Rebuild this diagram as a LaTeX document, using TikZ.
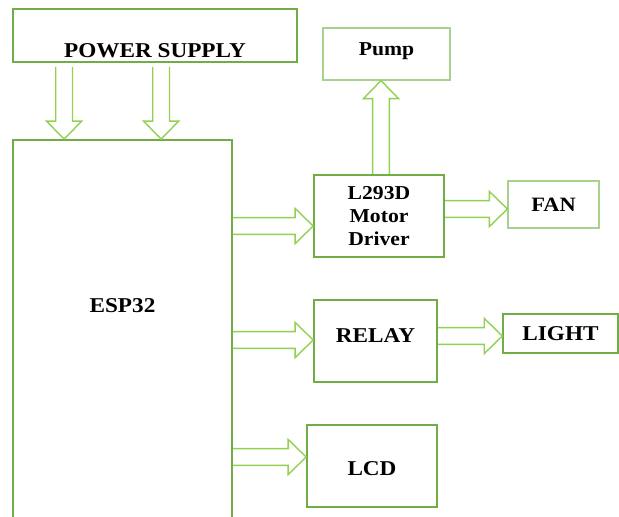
\documentclass[tikz,border=0pt]{standalone}
\usepackage{fontspec}
\setmainfont{Liberation Serif}[FakeStretch=1.1]
\definecolor{boxgreen}{HTML}{70AD47}
\definecolor{arrowgreen}{HTML}{92D050}
\definecolor{palegreen}{HTML}{A9D18E}
\usetikzlibrary{calc}
\tikzset{
    blockbox/.style={
        draw=boxgreen,
        fill=white,
        line width=1.2pt,
        inner sep=0pt,
        align=center,
        font=\bfseries\fontsize{15}{18}\selectfont
    },
    paleblock/.style={
        blockbox,
        draw=palegreen,
        line width=0.9pt
    },
    blockarrow/.style={
        draw=arrowgreen,
        line width=1pt,
        line join=miter,
        to path={
            let \p1=(\tikztostart), \p2=(\tikztotarget) in
            ($(\p1)!0.21cm!90:(\p2)$)
            -- ($(\p2)!0.45cm!(\p1)!0.21cm!90:(\p2)$)
            -- ($(\p2)!0.45cm!(\p1)!0.44cm!90:(\p2)$)
            -- (\p2)
            -- ($(\p2)!0.45cm!(\p1)!0.44cm!-90:(\p2)$)
            -- ($(\p2)!0.45cm!(\p1)!0.21cm!-90:(\p2)$)
            -- ($(\p1)!0.21cm!-90:(\p2)$)
        }
    }
}

\begin{document}
\begin{tikzpicture}[x=0.025cm,y=-0.025cm]
    \useasboundingbox (0,0) rectangle (619,516);
    \clip (0,0) rectangle (619,516);

    \node[blockbox,minimum width=7.1cm,text height=1.2cm,text depth=0.125cm]
        (psu) at (155,35.5) {POWER SUPPLY};
    \node[blockbox,minimum width=5.475cm,text height=4.3cm,text depth=5.45cm]
        (esp) at (122.5,335) {ESP32};
    \node[blockbox,minimum width=3.25cm,minimum height=2.05cm,
          font=\bfseries\fontsize{14}{16.3}\selectfont]
        (drv) at (379,216) {L293D\\Motor\\Driver};
    \node[paleblock,minimum width=3.175cm,text height=0.69cm,text depth=0.61cm,
          font=\bfseries\fontsize{14}{17}\selectfont]
        (pump) at (386.5,54) {Pump};
    \node[paleblock,minimum width=2.275cm,minimum height=1.175cm,
          font=\bfseries\fontsize{14.5}{17}\selectfont]
        (fan) at (553.5,204.5) {FAN};
    \node[blockbox,minimum width=3.075cm,text height=1.06cm,text depth=0.99cm]
        (relay) at (375.5,341) {RELAY};
    \node[blockbox,line width=1pt,minimum width=2.875cm,minimum height=0.975cm]
        (light) at (560.5,333.5) {LIGHT};
    \node[blockbox,minimum width=3.25cm,text height=1.26cm,text depth=0.79cm]
        (lcd) at (372,466) {LCD};

    % supply into the board
    \draw[blockarrow] ($(psu.south west)+(52,4)$) to ($(esp.north west)+(52,0)$);
    \draw[blockarrow] ($(psu.south west)+(149,4)$) to ($(esp.north west)+(149,0)$);

    % board outputs
    \draw[blockarrow] ($(esp.east |- drv.west)+(0,10)$) to ($(drv.west)+(0,10)$);
    \draw[blockarrow] ($(esp.east |- relay.west)+(0,-1)$) to ($(relay.west)+(0,-1)$);
    \draw[blockarrow] ($(esp.east |- lcd.west)+(0,-9)$) to ($(lcd.west)+(0,-9)$);

    % loads
    \draw[blockarrow] ($(drv.north)+(2,0)$) to ($(pump.south -| drv.north)+(2,0)$);
    \draw[blockarrow] ($(drv.east)+(0,-7)$) to ($(fan.west |- drv.east)+(0,-7)$);
    \draw[blockarrow] ($(relay.east)+(0,-5)$) to ($(light.west |- relay.east)+(0,-5)$);
\end{tikzpicture}
\end{document}
